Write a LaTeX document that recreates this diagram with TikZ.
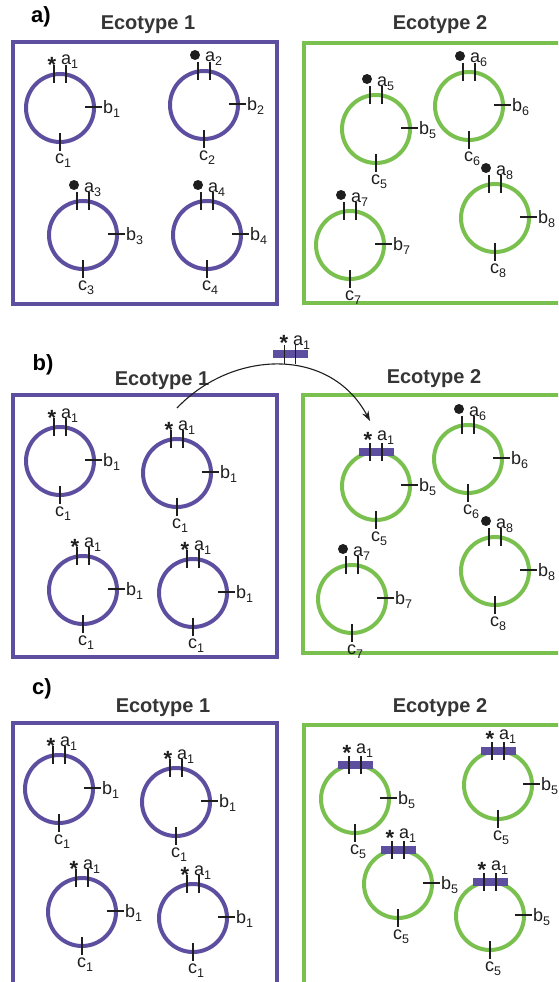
\documentclass[tikz,border=0pt]{standalone}
\usepackage{fontspec}
\setmainfont{Liberation Sans}
\usetikzlibrary{calc,arrows.meta}

\definecolor{eco1}{RGB}{94,78,160}
\definecolor{eco2}{RGB}{122,192,78}
\definecolor{ink}{RGB}{30,30,30}

% small lowered index for locus names
\newcommand\ix[1]{\raisebox{-4pt}{\fontsize{12.5}{13}\selectfont #1}}

% a chromosome ring with its b and c loci
\newcommand\ring[5]{%
  \node[ringshape, draw=#3] (#1) at #2 {};
  \draw[tick] ($(#1.center)+(25,-1)$) -- ++(17,0);
  \node[lab, anchor=base west] (#1-b) at ($(#1.center)+(43,5)$) {b\ix{#4}};
  \draw[tick] ($(#1.center)+(0,25)$) -- ++(0,18);
  \node[lab, anchor=base] (#1-c) at ($(#1.center)+(3,55)$) {c\ix{#5}};
}
% the pair of ticks of locus a
\newcommand\aticks[1]{%
  \draw[tick] ($(#1.center)+(-6,-43)$) -- ++(0,18);
  \draw[tick] ($(#1.center)+(6,-43)$) -- ++(0,18);
}
% locus a carrying the starred allele
\newcommand\astar[2]{%
  \aticks{#1}
  \node[starmark] (#1-s) at ($(#1.center)+(-8,-35.5)$) {*};
  \node[lab, anchor=base west] (#1-a) at ($(#1.center)+(1,-43)$) {a\ix{#2}};
}
% locus a carrying a dotted allele
\newcommand\adot[2]{%
  \aticks{#1}
  \node[dotmark] (#1-d) at ($(#1.center)+(-9,-50)$) {};
  \node[lab, anchor=base west] (#1-a) at ($(#1.center)+(1,-43)$) {a\ix{#2}};
}
% locus a replaced by the transferred segment
\newcommand\abar[2]{%
  \node[barmark] (#1-bar) at ($(#1.center)+(0,-34)$) {};
  \aticks{#1}
  \node[starmark] (#1-s) at ($(#1.center)+(-8,-39)$) {*};
  \node[lab, anchor=base west] (#1-a) at ($(#1.center)+(1,-46)$) {a\ix{#2}};
}

\begin{document}
\begin{tikzpicture}[x=1pt, y=-1pt,
  ringshape/.style={circle, minimum size=68, inner sep=0, outer sep=0, line width=4},
  tick/.style={ink, line width=1.1},
  lab/.style={text=ink, font=\fontsize{18}{20}\selectfont, inner sep=0},
  starmark/.style={text=ink, font=\fontsize{22}{24}\selectfont\bfseries, inner sep=0, anchor=base},
  dotmark/.style={circle, fill=ink, minimum size=10, inner sep=0},
  barmark/.style={rectangle, fill=eco1, minimum width=35, minimum height=8.5, inner sep=0},
  title/.style={font=\fontsize{20}{22}\selectfont\bfseries, text=ink!90, inner sep=0, anchor=base},
  panel/.style={font=\fontsize{22}{24}\selectfont\bfseries, text=black, inner sep=0, anchor=base},
  box1/.style={draw=eco1, line width=3.8},
  box2/.style={draw=eco2, line width=3.8},
  jump/.style={ink, line width=1.1, -{Stealth[length=10, width=7]}}]

\useasboundingbox (0,0) rectangle (558,982);
\clip (0,0) rectangle (558,982);

% ---------------- a) ----------------
\node[panel] (pa) at (41,23) {a)};
\node[title] (ta1) at (148,30) {Ecotype 1};
\node[title] (ta2) at (440,30) {Ecotype 2};
\draw[box1] (13,42) rectangle (277,304);
\draw[box2] (304,43) rectangle (600,303);

\ring{a1}{(60,108)}{eco1}{1}{1}   \astar{a1}{1}
\ring{a2}{(204,105)}{eco1}{2}{2}  \adot{a2}{2}
\ring{a3}{(83,235)}{eco1}{3}{3}   \adot{a3}{3}
\ring{a4}{(207,235)}{eco1}{4}{4}  \adot{a4}{4}

\ring{a5}{(376,129)}{eco2}{5}{5}  \adot{a5}{5}
\ring{a6}{(469,106)}{eco2}{6}{6}  \adot{a6}{6}
\ring{a7}{(350,245)}{eco2}{7}{7}  \adot{a7}{7}
\ring{a8}{(495,218)}{eco2}{8}{8}  \adot{a8}{8}

% ---------------- b) ----------------
\node[panel] (pb) at (43,370) {b)};
\node[title] (tb1) at (162,385) {Ecotype 1};
\node[title] (tb2) at (434,383) {Ecotype 2};
\draw[box1] (13,395) rectangle (277,657);
\draw[box2] (303,395) rectangle (600,653);

\ring{b1}{(60,461)}{eco1}{1}{1}   \astar{b1}{1}
\ring{b2}{(177,473)}{eco1}{1}{1}  \astar{b2}{1}
\ring{b3}{(83,590)}{eco1}{1}{1}   \astar{b3}{1}
\ring{b4}{(193,593)}{eco1}{1}{1}  \astar{b4}{1}

\ring{b5}{(376,486)}{eco2}{5}{5}  \abar{b5}{1}
\ring{b6}{(468,459)}{eco2}{6}{6}  \adot{b6}{6}
\ring{b7}{(352,599)}{eco2}{7}{7}  \adot{b7}{7}
\ring{b8}{(495,571)}{eco2}{8}{8}  \adot{b8}{8}

% the segment moving between ecotypes
\node[barmark] (mobile) at (290,354) {};
\draw[tick] ($(mobile.center)+(-5.5,-9)$) -- ++(0,19);
\draw[tick] ($(mobile.center)+(5.5,-9)$) -- ++(0,19);
\node[starmark] (mobile-s) at ($(mobile.center)+(-6,-4)$) {*};
\node[lab, anchor=base west] (mobile-a) at ($(mobile.center)+(3,-9)$) {a\ix{1}};
\coordinate (src) at (177,408);
\coordinate (dst) at (370,421);
\draw[jump] (src) .. controls (232,350) and (330,346) .. (dst);

% ---------------- c) ----------------
\node[panel] (pc) at (42,694) {c)};
\node[title] (tc1) at (163,712) {Ecotype 1};
\node[title] (tc2) at (440,712) {Ecotype 2};
\draw[box1] (13,723) rectangle (277,1010);
\draw[box2] (304,725) rectangle (600,1010);

\ring{c1}{(59,789)}{eco1}{1}{1}   \astar{c1}{1}
\ring{c2}{(176,802)}{eco1}{1}{1}  \astar{c2}{1}
\ring{c3}{(82,912)}{eco1}{1}{1}   \astar{c3}{1}
\ring{c4}{(193,918)}{eco1}{1}{1}  \astar{c4}{1}

\ring{c5}{(355,799)}{eco2}{5}{5}  \abar{c5}{1}
\ring{c6}{(498,785)}{eco2}{5}{5}  \abar{c6}{1}
\ring{c7}{(398,884)}{eco2}{5}{5}  \abar{c7}{1}
\ring{c8}{(490,916)}{eco2}{5}{5}  \abar{c8}{1}

\end{tikzpicture}
\end{document}
